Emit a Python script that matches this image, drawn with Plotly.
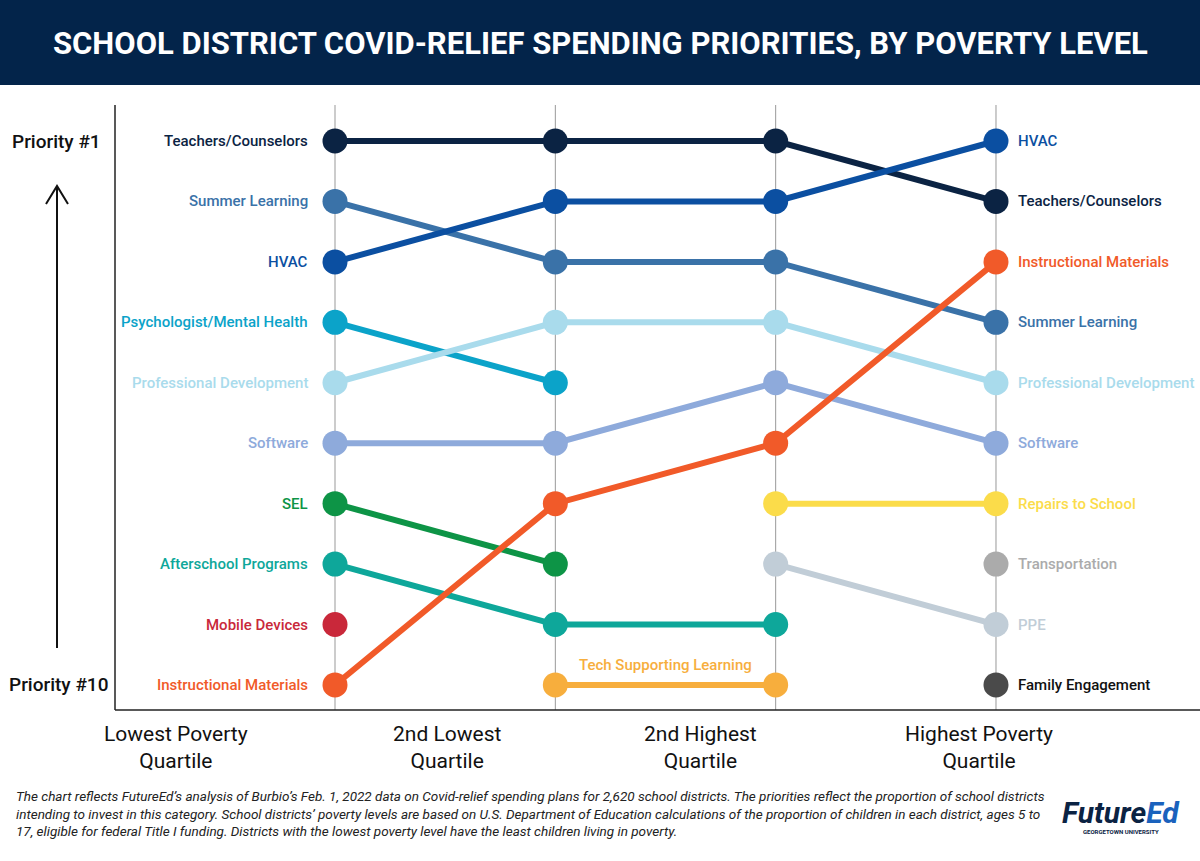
import plotly.graph_objects as go

# Quartiles (x positions 0..3) and their axis labels
quartiles = ["Lowest Poverty<br>Quartile", "2nd Lowest<br>Quartile",
             "2nd Highest<br>Quartile", "Highest Poverty<br>Quartile"]

# Priority rank per quartile (None = not in that quartile's top 10)
categories = [
    "Teachers/Counselors", "Summer Learning", "Psychologist/Mental Health",
    "Professional Development", "Software", "SEL", "Afterschool Programs",
    "Mobile Devices", "Tech Supporting Learning", "Repairs to School",
    "PPE", "Transportation", "Family Engagement", "HVAC", "Instructional Materials",
]
ranks = {
    "Teachers/Counselors":        [1, 1, 1, 2],
    "Summer Learning":            [2, 3, 3, 4],
    "Psychologist/Mental Health": [4, 5, None, None],
    "Professional Development":   [5, 4, 4, 5],
    "Software":                   [6, 6, 5, 6],
    "SEL":                        [7, 8, None, None],
    "Afterschool Programs":       [8, 9, 9, None],
    "Mobile Devices":             [9, None, None, None],
    "Tech Supporting Learning":   [None, 10, 10, None],
    "Repairs to School":          [None, None, 7, 7],
    "PPE":                        [None, None, 8, 9],
    "Transportation":             [None, None, None, 8],
    "Family Engagement":          [None, None, None, 10],
    "HVAC":                       [3, 2, 2, 1],
    "Instructional Materials":    [10, 7, 6, 3],
}
colors = {
    "Teachers/Counselors": "#0b2343",
    "Summer Learning": "#3a72a8",
    "Psychologist/Mental Health": "#0ba3c9",
    "Professional Development": "#a9dbec",
    "Software": "#8eaadb",
    "SEL": "#0d9446",
    "Afterschool Programs": "#0ea79a",
    "Mobile Devices": "#c9283a",
    "Tech Supporting Learning": "#f7ae3d",
    "Repairs to School": "#fbdc4a",
    "PPE": "#c1cdd7",
    "Transportation": "#ababab",
    "Family Engagement": "#4a4a4a",
    "HVAC": "#0b4fa1",
    "Instructional Materials": "#f15a29",
}
label_colors = {"Family Engagement": "#111111"}

W, H = 1200, 861
NAVY = "#03244a"
FONT = "Roboto"

# pixel <-> data mapping (x: quartile 0 at 335px, 220.3px per step; y: rank 1 at 141px)
X0, DX = 335, 220.33
Y0, DY = 141, 60.44
x_range = [-X0 / DX, (W - X0) / DX]
y_range = [1 + (H - Y0) / DY, 1 - Y0 / DY]


def px(x):
    return x / W


def py(y):
    return 1 - y / H


fig = go.Figure()

for cat in categories:
    r = ranks[cat]
    fig.add_trace(go.Scatter(
        x=list(range(len(quartiles))), y=r,
        mode="lines+markers",
        line=dict(color=colors[cat], width=6),
        marker=dict(color=colors[cat], size=25),
        connectgaps=False,
        name=cat, showlegend=False, hoverinfo="name",
    ))

annotations = []
# category labels: left of first point / right of last point
for cat in categories:
    r = ranks[cat]
    idx = [i for i, v in enumerate(r) if v is not None]
    c = label_colors.get(cat, colors[cat])
    lf = dict(family=FONT, size=15, color=c, weight=500)
    if cat == "Tech Supporting Learning":
        annotations.append(dict(x=(idx[0] + idx[-1]) / 2, y=r[idx[0]], text=cat,
                                showarrow=False, font=lf, yshift=20))
        continue
    if idx[0] == 0:
        annotations.append(dict(x=0, y=r[0], text=cat, showarrow=False,
                                xanchor="right", xshift=-25, font=lf))
    if idx[-1] == len(quartiles) - 1:
        annotations.append(dict(x=3, y=r[3], text=cat, showarrow=False,
                                xanchor="left", xshift=20, font=lf))

# quartile labels under the axis
q_label_px = [176, 447, 700, 979]
for q, xp in zip(quartiles, q_label_px):
    annotations.append(dict(xref="paper", yref="paper", x=px(xp), y=py(720),
                            xanchor="center", yanchor="top", text=q, showarrow=False,
                            font=dict(family=FONT, size=21, color="#111")))

# priority labels
annotations += [
    dict(xref="paper", yref="y", x=px(56), y=1, text="Priority #1", showarrow=False,
         xanchor="center", font=dict(family=FONT, size=19, color="#111", weight=500)),
    dict(xref="paper", yref="y", x=px(58), y=10, text="Priority #10", showarrow=False,
         xanchor="center", font=dict(family=FONT, size=19, color="#111", weight=500)),
]

# title
annotations.append(dict(xref="paper", yref="paper", x=0.5, y=py(43),
                        xanchor="center", yanchor="middle",
                        text="SCHOOL DISTRICT COVID-RELIEF SPENDING PRIORITIES, BY POVERTY LEVEL",
                        showarrow=False, font=dict(family=FONT, size=31, color="white", weight="bold")))

# footnote
notes = [
    "The chart reflects FutureEd\u2019s analysis of Burbio\u2019s Feb. 1, 2022 data on Covid-relief spending plans for 2,620 school districts. The priorities reflect the proportion of school districts",
    "intending to invest in this category. School districts\u2019 poverty levels are based on U.S. Department of Education calculations of the proportion of children in each district, ages 5 to",
    "17, eligible for federal Title I funding. Districts with the lowest poverty level have the least children living in poverty.",
]
for i, line in enumerate(notes):
    annotations.append(dict(xref="paper", yref="paper", x=px(14), y=py(796 + 17.5 * i),
                            xanchor="left", yanchor="middle", text=line, showarrow=False,
                            font=dict(family=FONT, size=13.5, color="#222", style="italic")))

# logo text
annotations += [
    dict(xref="paper", yref="paper", x=px(1121), y=py(812), showarrow=False,
         xanchor="center", yanchor="middle",
         text="<b><i>Future<span style='color:#1a62bd'>Ed</span></i></b>",
         font=dict(family=FONT, size=30, color="#0b2343")),
    dict(xref="paper", yref="paper", x=px(1121), y=py(831), showarrow=False,
         xanchor="center", yanchor="middle",
         text="<b>GEORGETOWN UNIVERSITY</b>",
         font=dict(family=FONT, size=6, color="#0b2343")),
]

shapes = [
    # header banner
    dict(type="rect", xref="paper", yref="paper", x0=0, x1=1, y0=py(85), y1=1,
         fillcolor=NAVY, line_width=0, layer="below"),
    # left axis and bottom axis
    dict(type="line", xref="paper", yref="paper", x0=px(115), x1=px(115),
         y0=py(105), y1=py(710), line=dict(color="#222", width=1.5)),
    dict(type="line", xref="paper", yref="paper", x0=px(115), x1=1,
         y0=py(710), y1=py(710), line=dict(color="#222", width=1.5)),
    # up arrow
    dict(type="line", xref="paper", yref="paper", x0=px(57), x1=px(57),
         y0=py(648), y1=py(186), line=dict(color="#111", width=2)),
    dict(type="path", xref="paper", yref="paper",
         path=f"M {px(46)},{py(204)} L {px(57)},{py(186)} L {px(68)},{py(204)}",
         line=dict(color="#111", width=2)),
]
# quartile guide lines
for i in range(len(quartiles)):
    shapes.append(dict(type="line", xref="x", yref="paper", x0=i, x1=i,
                       y0=py(105), y1=py(710), line=dict(color="#999", width=1),
                       layer="below"))

fig.update_layout(
    width=W, height=H,
    margin=dict(l=0, r=0, t=0, b=0),
    paper_bgcolor="white", plot_bgcolor="white",
    xaxis=dict(range=x_range, visible=False, fixedrange=True),
    yaxis=dict(range=y_range, visible=False, fixedrange=True),
    annotations=annotations,
    shapes=shapes,
    font=dict(family=FONT),
)

# remove the browser's default page margin so the figure sits at 0,0
fig.write_html("out.html", config={"displayModeBar": False},
               post_script="document.body.style.margin='0';")
